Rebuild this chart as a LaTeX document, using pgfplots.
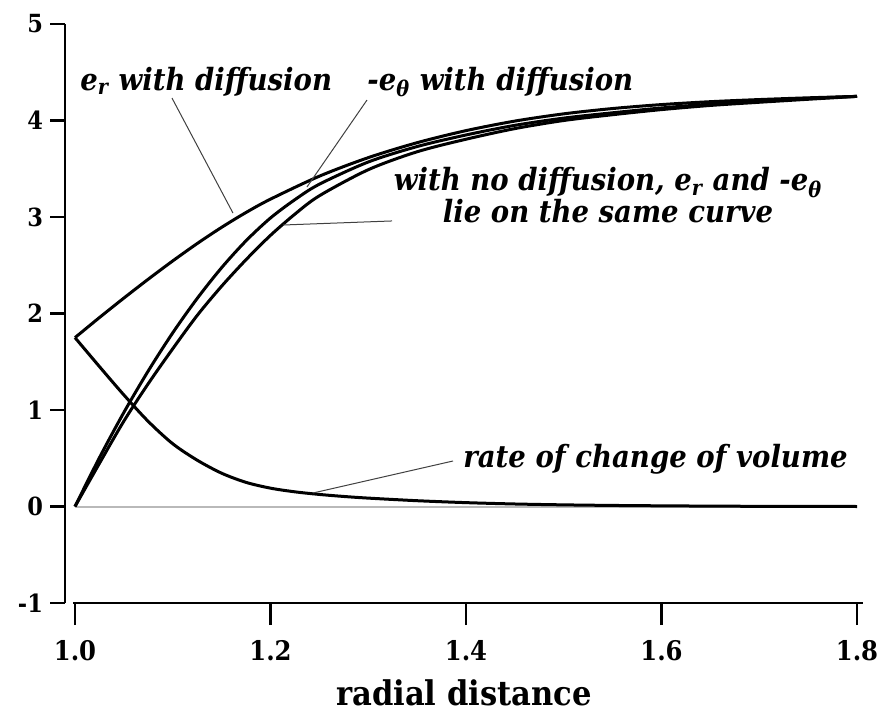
\documentclass[border=0pt]{standalone}
\usepackage{fontspec}
\setmainfont{DejaVu Serif}[FakeStretch=0.9]
\usepackage{pgfplots}
\pgfplotsset{compat=1.18}

\begin{document}
\begin{tikzpicture}
\begin{axis}[
    scale only axis,
    width=399pt, height=289.5pt,
    xmin=0.98977, xmax=1.80614,
    ymin=-1, ymax=5,
    axis x line=bottom, axis y line=left,
    axis line style={-, line width=1.2pt},
    x axis line style={shorten <=4pt},
    tick align=outside,
    major tick length=7.5pt,
    tick style={line width=1.2pt, black},
    xtick=\empty,
    extra x ticks={1.0,1.2,1.4,1.6,1.8},
    extra x tick labels={1.0,1.2,1.4,1.6,1.8},
    extra x tick style={major tick length=11pt, tick style={line width=1.2pt, black}},
    ytick={-1,0,1,2,3,4,5},
    yticklabels={-1,0,1,2,3,4,5},
    xticklabel style={font=\fontsize{13.5}{16}\bfseries, yshift=-4pt},
    yticklabel style={font=\fontsize{12.5}{15}\bfseries},
    xlabel={radial distance},
    xlabel style={font=\fontsize{17}{20}\bfseries, yshift=5pt},
    clip=false,
]
% rate of change of volume, no diffusion
\addplot[gray!55, line width=1pt] coordinates {(1.0,0) (1.8,0)};

% e_r with diffusion
\addplot[black, line width=1.5pt, smooth] coordinates {
 (1.000,1.75) (1.025,1.958) (1.050,2.160) (1.075,2.356) (1.100,2.545)
 (1.125,2.725) (1.150,2.893) (1.175,3.047) (1.200,3.185) (1.250,3.423)
 (1.300,3.615) (1.350,3.770) (1.400,3.895) (1.450,3.994) (1.500,4.069)
 (1.550,4.124) (1.600,4.165) (1.650,4.195) (1.700,4.217) (1.750,4.235)
 (1.800,4.250)};

% -e_theta with diffusion
\addplot[black, line width=1.5pt, smooth] coordinates {
 (1.000,0.000) (1.025,0.506) (1.050,0.975) (1.075,1.406) (1.100,1.800)
 (1.125,2.156) (1.150,2.475) (1.175,2.754) (1.200,2.990) (1.225,3.180)
 (1.250,3.340) (1.300,3.570) (1.350,3.730) (1.400,3.850) (1.450,3.950)
 (1.500,4.025) (1.550,4.080) (1.600,4.130) (1.650,4.170) (1.700,4.200)
 (1.750,4.228) (1.800,4.250)};

% no diffusion: e_r = -e_theta
\addplot[black, line width=1.5pt, smooth] coordinates {
 (1.000,0.000) (1.025,0.447) (1.050,0.885) (1.075,1.274) (1.100,1.635)
 (1.125,1.980) (1.150,2.283) (1.175,2.558) (1.200,2.810) (1.225,3.030)
 (1.250,3.220) (1.300,3.490) (1.350,3.676) (1.400,3.806) (1.450,3.916)
 (1.500,4.000) (1.550,4.060) (1.600,4.113) (1.650,4.156) (1.700,4.189)
 (1.750,4.220) (1.800,4.250)};

% rate of change of volume, with diffusion
\addplot[black, line width=1.5pt, smooth] coordinates {
 (1.000,1.750) (1.025,1.450) (1.050,1.156) (1.075,0.881) (1.100,0.650)
 (1.125,0.480) (1.150,0.345) (1.175,0.250) (1.200,0.190) (1.225,0.152)
 (1.250,0.125) (1.275,0.104) (1.300,0.087) (1.350,0.060) (1.400,0.040)
 (1.450,0.026) (1.500,0.017) (1.550,0.011) (1.600,0.007) (1.650,0.004)
 (1.700,0.002) (1.800,0.000)};

% annotations
\begin{scope}[every node/.style={font=\fontsize{15.3}{15}\bfseries\itshape, inner sep=0pt}]
\node[anchor=base west] at (axis cs:1.0051,4.316) {e\textsubscript{r} with diffusion};
\node[anchor=base west] at (axis cs:1.2987,4.316) {-e\textsubscript{θ} with diffusion};
\node[anchor=base, align=center] at (axis cs:1.5453,2.938)
  {with no diffusion, e\textsubscript{r} and -e\textsubscript{θ}\\lie on the same curve};
\node[anchor=base west] at (axis cs:1.3969,0.409) {rate of change of volume};
\end{scope}
\draw[black!75, line width=0.5pt] (axis cs:1.0992,4.233) -- (axis cs:1.1616,3.041);
\draw[black!75, line width=0.5pt] (axis cs:1.2987,4.212) -- (axis cs:1.2373,3.311);
\draw[black!75, line width=0.5pt] (axis cs:1.3243,2.959) -- (axis cs:1.2128,2.917);
\draw[black!75, line width=0.5pt] (axis cs:1.3867,0.4715) -- (axis cs:1.2435,0.140);

\coordinate (bbA) at (axis cs:0.92327,5.2487);
\coordinate (bbB) at (axis cs:1.82762,-2.1399);
\end{axis}
\pgfresetboundingbox
\path[use as bounding box] (bbA) rectangle (bbB);
\end{tikzpicture}
\end{document}
